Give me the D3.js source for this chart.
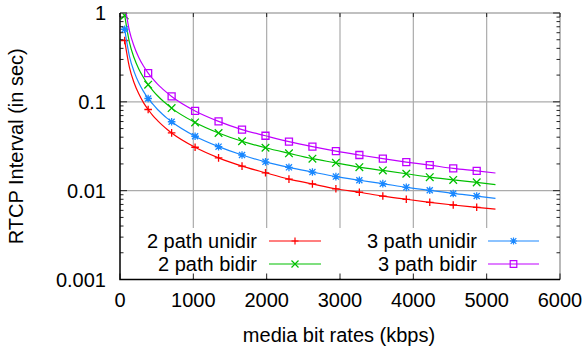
<!DOCTYPE html>
<html>
<head>
<meta charset="utf-8">
<script src="https://cdn.jsdelivr.net/npm/d3@7"></script>
<style>
  body { margin: 0; background: #fff; }
  text { font-family: "Liberation Sans", Arial, Helvetica, sans-serif; fill: #000; }
</style>
</head>
<body>
<div id="chart"></div>
<script>
// media bit rates (kbps) at which the curves were sampled
const rates = [64, 128, 192, 256, 320, 384, 448, 512, 576, 640, 704, 1024, 1344, 1664, 1984,
               2304, 2624, 2944, 3264, 3584, 3904, 4224, 4544, 4864, 5120]
// rates that carry a point symbol
const markerRates = [64, 384, 704, 1024, 1344, 1664, 1984, 2304, 2624, 2944, 3264, 3584, 3904, 4224, 4544, 4864]

// RTCP interval (sec)
const unidir2 = [0.49, 0.246, 0.164, 0.123, 0.098, 0.082, 0.070, 0.0615, 0.0547, 0.0492, 0.0447, 0.0308, 0.0234,
                 0.0189, 0.0159, 0.0135, 0.0119, 0.0105, 0.0096, 0.0087, 0.0080, 0.0074, 0.0069, 0.0065, 0.0062]
const bidir2 = [0.94, 0.469, 0.313, 0.234, 0.188, 0.156, 0.134, 0.117, 0.104, 0.094, 0.085, 0.0586, 0.0446,
                0.036, 0.0304, 0.0263, 0.0229, 0.0206, 0.0184, 0.0169, 0.0155, 0.0142, 0.0132, 0.0124, 0.0117]
const unidir3 = [0.656, 0.328, 0.219, 0.164, 0.131, 0.109, 0.094, 0.082, 0.073, 0.0656, 0.0597, 0.041, 0.0313,
                 0.0252, 0.0211, 0.0183, 0.0162, 0.0144, 0.0131, 0.0120, 0.0109, 0.0101, 0.0093, 0.0087, 0.0082]
const bidir3 = [1.27, 0.633, 0.422, 0.316, 0.253, 0.211, 0.181, 0.158, 0.141, 0.127, 0.115, 0.079, 0.0603,
                0.0487, 0.0415, 0.0356, 0.0313, 0.0279, 0.0252, 0.0229, 0.0210, 0.0194, 0.0178, 0.0167, 0.0158]

const xTicks = [0, 1000, 2000, 3000, 4000, 5000, 6000]
const yTicks = [0.001, 0.01, 0.1, 1]
const yTickLabels = ["0.001", "0.01", "0.1", "1"]

const series = [
  {name: "2 path unidir", values: unidir2, color: "#ff0000", symbol: "plus"},
  {name: "2 path bidir", values: bidir2, color: "#00c000", symbol: "cross"},
  {name: "3 path unidir", values: unidir3, color: "#1a88ff", symbol: "star"},
  {name: "3 path bidir", values: bidir3, color: "#c000ff", symbol: "square"}
]

const width = 587, height = 354
const plot = {left: 120, right: 560, top: 13, bottom: 279.5}
const fontSize = "20px"

const svg = d3.select("#chart").append("svg")
  .attr("width", width).attr("height", height)
  .attr("viewBox", [0, 0, width, height])

const x = d3.scaleLinear().domain([0, 6000]).range([plot.left, plot.right])
const y = d3.scaleLog().domain([0.001, 1]).range([plot.bottom, plot.top])

const layer_grid = svg.append("g")
const layer_lines = svg.append("g")
const layer_key = svg.append("g")
const layer_axes = svg.append("g")

svg.append("clipPath").attr("id", "clip")
  .append("rect")
  .attr("x", plot.left).attr("y", plot.top)
  .attr("width", plot.right - plot.left).attr("height", plot.bottom - plot.top)

// grid
layer_grid.selectAll(".gx").data(xTicks.slice(1)).enter().append("line")
  .attr("x1", d => x(d)).attr("x2", d => x(d))
  .attr("y1", plot.top).attr("y2", plot.bottom)
  .attr("stroke", "#ababab").attr("stroke-width", 1.2)
layer_grid.selectAll(".gy").data(yTicks.slice(1)).enter().append("line")
  .attr("x1", plot.left).attr("x2", plot.right)
  .attr("y1", d => y(d)).attr("y2", d => y(d))
  .attr("stroke", "#ababab").attr("stroke-width", 1.2)

// symbols
function symbolPath(type, s) {
  if (type === "plus") return `M${-s},0H${s}M0,${-s}V${s}`
  if (type === "cross") return `M${-s},${-s}L${s},${s}M${-s},${s}L${s},${-s}`
  if (type === "star") return `M${-s},0H${s}M0,${-s}V${s}M${-s*0.8},${-s*0.8}L${s*0.8},${s*0.8}M${-s*0.8},${s*0.8}L${s*0.8},${-s*0.8}`
  return `M${-s},${-s}H${s}V${s}H${-s}Z`
}

const line = d3.line()
  .x(d => x(d[0]))
  .y(d => y(d[1]))
  .curve(d3.curveMonotoneX)

const plotArea = layer_lines.append("g").attr("clip-path", "url(#clip)")

series.forEach(s => {
  const pts = rates.map((r, i) => [r, s.values[i]])
  plotArea.append("path")
    .attr("d", line(pts))
    .attr("fill", "none")
    .attr("stroke", s.color)
    .attr("stroke-width", 1.2)
  plotArea.selectAll(null)
    .data(pts.filter(p => markerRates.includes(p[0])))
    .enter()
    .append("path")
    .attr("transform", d => `translate(${x(d[0])},${y(d[1])})`)
    .attr("d", symbolPath(s.symbol, s.symbol === "square" ? 3.5 : 3.8))
    .attr("fill", "none")
    .attr("stroke", s.color)
    .attr("stroke-width", 1.3)
})

// key
layer_key.append("rect")
  .attr("x", 132).attr("y", 228)
  .attr("width", 418).attr("height", 50)
  .attr("fill", "#fff")

const keyPos = [
  {tx: 257, l1: 269, l2: 321, ty: 241},
  {tx: 257, l1: 269, l2: 321, ty: 264},
  {tx: 477, l1: 488, l2: 539, ty: 241},
  {tx: 477, l1: 488, l2: 539, ty: 264}
]
series.forEach((s, i) => {
  const k = keyPos[i]
  layer_key.append("text")
    .attr("x", k.tx).attr("y", k.ty)
    .attr("dy", "0.35em")
    .attr("text-anchor", "end")
    .style("font-size", fontSize)
    .text(s.name)
  layer_key.append("line")
    .attr("x1", k.l1).attr("x2", k.l2)
    .attr("y1", k.ty).attr("y2", k.ty)
    .attr("stroke", s.color).attr("stroke-width", 1.2)
  layer_key.append("path")
    .attr("transform", `translate(${(k.l1 + k.l2) / 2},${k.ty})`)
    .attr("d", symbolPath(s.symbol, s.symbol === "square" ? 3.3 : 3.5))
    .attr("fill", "none")
    .attr("stroke", s.color).attr("stroke-width", 1.2)
})

// frame: top/right light, left/bottom black
layer_axes.append("line")
  .attr("x1", plot.left).attr("x2", plot.right).attr("y1", plot.top).attr("y2", plot.top)
  .attr("stroke", "#ababab").attr("stroke-width", 1.2)
layer_axes.append("line")
  .attr("x1", plot.right).attr("x2", plot.right).attr("y1", plot.top).attr("y2", plot.bottom)
  .attr("stroke", "#ababab").attr("stroke-width", 1.2)

// minor log ticks
const minor = []
for (let e = -3; e < 0; e++) for (let m = 2; m <= 9; m++) minor.push(m * Math.pow(10, e))

const tickColor = "#222"
layer_axes.selectAll(".ml").data(minor).enter().append("line")
  .attr("x1", plot.left).attr("x2", plot.left + 3.5)
  .attr("y1", d => y(d)).attr("y2", d => y(d))
  .attr("stroke", tickColor)
layer_axes.selectAll(".mr").data(minor).enter().append("line")
  .attr("x1", plot.right).attr("x2", plot.right - 3.5)
  .attr("y1", d => y(d)).attr("y2", d => y(d))
  .attr("stroke", tickColor)
layer_axes.selectAll(".Ml").data(yTicks).enter().append("line")
  .attr("x1", plot.left).attr("x2", plot.left + 7)
  .attr("y1", d => y(d)).attr("y2", d => y(d))
  .attr("stroke", tickColor)
layer_axes.selectAll(".Mr").data(yTicks).enter().append("line")
  .attr("x1", plot.right).attr("x2", plot.right - 7)
  .attr("y1", d => y(d)).attr("y2", d => y(d))
  .attr("stroke", tickColor)
layer_axes.selectAll(".xb").data(xTicks).enter().append("line")
  .attr("x1", d => x(d)).attr("x2", d => x(d))
  .attr("y1", plot.bottom).attr("y2", plot.bottom - 6)
  .attr("stroke", tickColor)
layer_axes.selectAll(".xt").data(xTicks).enter().append("line")
  .attr("x1", d => x(d)).attr("x2", d => x(d))
  .attr("y1", plot.top).attr("y2", plot.top + 4)
  .attr("stroke", tickColor)

// left + bottom axes
layer_axes.append("path")
  .attr("d", `M${plot.left},${plot.top}V${plot.bottom}H${plot.right}`)
  .attr("fill", "none").attr("stroke", "#000").attr("stroke-width", 1.5)

// tick labels
layer_axes.selectAll(".yl").data(yTicks).enter().append("text")
  .attr("x", 106).attr("y", d => y(d))
  .attr("dy", "0.35em")
  .attr("text-anchor", "end")
  .style("font-size", fontSize)
  .text((d, i) => yTickLabels[i])
layer_axes.selectAll(".xl").data(xTicks).enter().append("text")
  .attr("x", d => x(d)).attr("y", 300)
  .attr("dy", "0.35em")
  .attr("text-anchor", "middle")
  .style("font-size", fontSize)
  .text(d => d)

// axis titles
layer_axes.append("text")
  .attr("x", 339).attr("y", 335)
  .attr("dy", "0.35em")
  .attr("text-anchor", "middle")
  .style("font-size", fontSize)
  .text("media bit rates (kbps)")
layer_axes.append("text")
  .attr("transform", `translate(16,${(plot.top + plot.bottom) / 2}) rotate(-90)`)
  .attr("dy", "0.35em")
  .attr("text-anchor", "middle")
  .style("font-size", fontSize)
  .text("RTCP Interval (in sec)")
</script>
</body>
</html>
